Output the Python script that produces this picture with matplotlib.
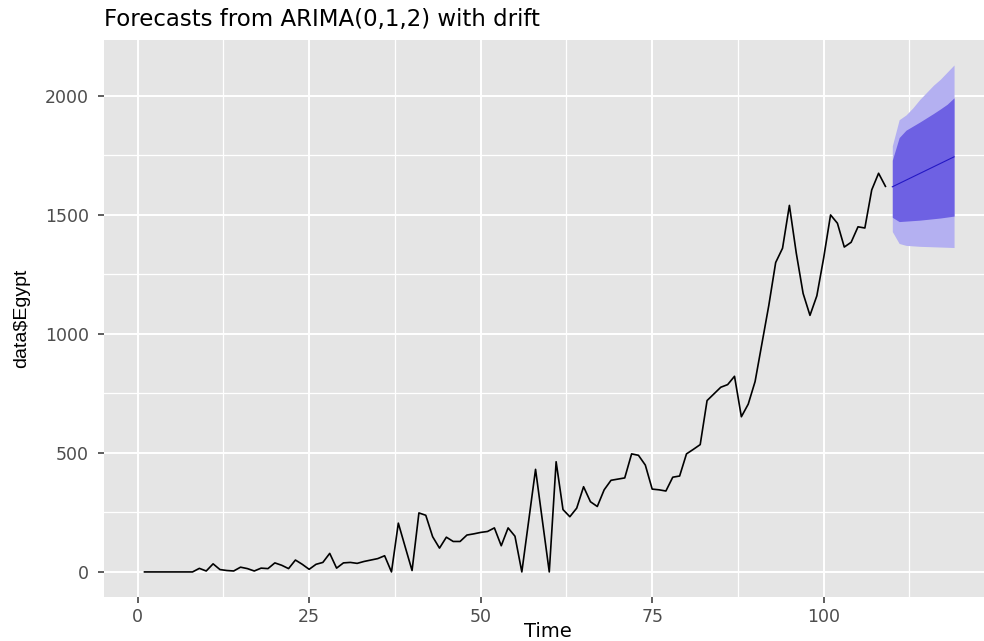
import numpy as np
import matplotlib
matplotlib.use("Agg")
import matplotlib.pyplot as plt
from matplotlib.ticker import MultipleLocator

# observed series, t = 1..109
egypt = [0, 0, 0, 0, 0, 0, 0, 0, 15, 4,
         34, 10, 6, 4, 20, 14, 4, 16, 14, 38,
         28, 14, 50, 32, 11, 32, 40, 78, 16, 38,
         40, 36, 44, 50, 56, 68, 0, 205, 105, 6,
         248, 238, 148, 100, 146, 128, 128, 155, 160, 166,
         170, 185, 110, 185, 150, 0, 215, 431, 215, 0,
         463, 262, 232, 268, 358, 295, 275, 345, 385, 390,
         395, 496, 490, 449, 348, 345, 340, 398, 403, 496,
         515, 535, 720, 748, 776, 787, 822, 652, 705, 800,
         960, 1120, 1300, 1360, 1540, 1340, 1170, 1078, 1160, 1320,
         1500, 1465, 1365, 1385, 1450, 1445, 1605, 1675, 1620]
time = np.arange(1, len(egypt) + 1)

# forecast, t = 110..119
fc_time = np.arange(110, 120)
fc_mean = [1618, 1632, 1646, 1660, 1674, 1688, 1702, 1716, 1730, 1744]
lo80 = [1490, 1472, 1474, 1476, 1478, 1481, 1484, 1487, 1491, 1495]
hi80 = [1730, 1825, 1856, 1873, 1890, 1908, 1926, 1945, 1965, 1992]
lo95 = [1430, 1380, 1372, 1370, 1368, 1367, 1366, 1365, 1364, 1363]
hi95 = [1790, 1900, 1920, 1950, 1985, 2015, 2045, 2070, 2100, 2130]

plt.rcParams['font.family'] = ['DejaVu Sans']

fig = plt.figure(figsize=(9.84, 6.41), dpi=100)
# panel runs past the right edge of the picture, as in the reference
ax = fig.add_axes([0.1057, 0.0682, 0.905, 0.870])
ax.set_facecolor('#E5E5E5')

ax.fill_between(fc_time, lo95, hi95, color='#B4B0F1', lw=0)
ax.fill_between(fc_time, lo80, hi80, color='#6E61E3', lw=0)
ax.plot(fc_time, fc_mean, color='#2418C4', lw=0.8)
ax.plot(time, egypt, color='black', lw=1.2)

# ggplot style 5% expansion
xlo, xhi = time.min(), fc_time.max()
ylo, yhi = 0, max(hi95)
ax.set_xlim(xlo - 0.05 * (xhi - xlo), xhi + 0.05 * (xhi - xlo))
ax.set_ylim(ylo - 0.05 * (yhi - ylo), yhi + 0.05 * (yhi - ylo))

ax.xaxis.set_major_locator(MultipleLocator(25))
ax.xaxis.set_minor_locator(MultipleLocator(12.5))
ax.yaxis.set_major_locator(MultipleLocator(500))
ax.yaxis.set_minor_locator(MultipleLocator(250))
ax.grid(which='major', color='white', lw=1.4)
ax.grid(which='minor', color='white', lw=0.9)
ax.set_axisbelow(True)
for s in ax.spines.values():
    s.set_visible(False)

ax.tick_params(which='major', length=4, width=1.1, color='#333333',
               labelcolor='#4D4D4D', labelsize=12.5)
ax.tick_params(axis='y', pad=7)
ax.tick_params(axis='x', pad=4)
ax.tick_params(which='minor', length=0)

ax.set_xlabel('Time', fontsize=14)
ax.xaxis.set_label_coords(0.498, -0.045)
ax.set_ylabel('data$Egypt', fontsize=14,
              family=['Liberation Sans Narrow', 'Liberation Sans', 'DejaVu Sans'])
ax.yaxis.set_label_coords(-0.083, 0.5)
fig.text(0.1057, 0.969, 'Forecasts from ARIMA(0,1,2) with drift',
         fontsize=16.5, ha='left', va='center')

fig.savefig('out.png', dpi=100)
